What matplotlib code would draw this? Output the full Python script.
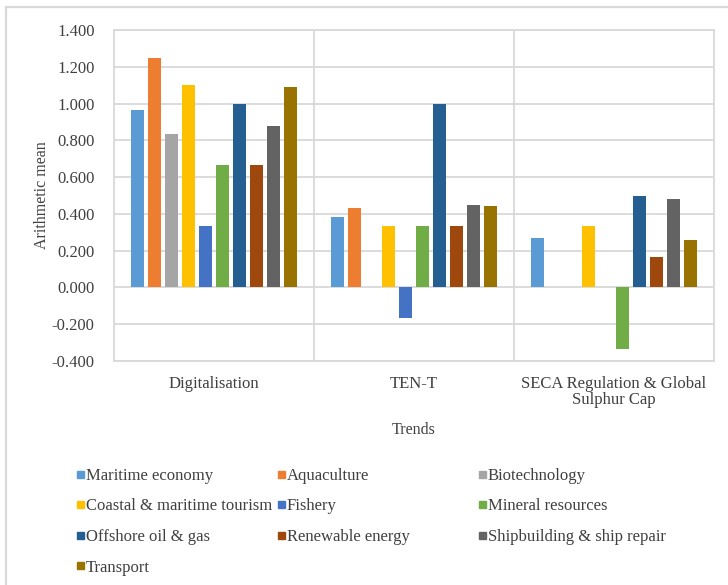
import numpy as np
from matplotlib import pyplot as plt
from matplotlib.patches import Rectangle

categories = ["Digitalisation", "TEN-T", "SECA Regulation & Global\nSulphur Cap"]
series_names = ["Maritime economy", "Aquaculture", "Biotechnology",
                "Coastal & maritime tourism", "Fishery", "Mineral resources",
                "Offshore oil & gas", "Renewable energy", "Shipbuilding & ship repair",
                "Transport"]
colors = ["#5B9BD5", "#ED7D31", "#A5A5A5", "#FFC000", "#4472C4",
          "#70AD47", "#255E91", "#9E480E", "#636363", "#997300"]

# one list per series: Digitalisation, TEN-T, SECA
maritime_economy = [0.967, 0.385, 0.267]
aquaculture = [1.250, 0.430, 0.0]
biotechnology = [0.833, 0.0, 0.0]
coastal_tourism = [1.100, 0.333, 0.333]
fishery = [0.333, -0.167, 0.0]
mineral_resources = [0.667, 0.333, -0.333]
offshore_oil_gas = [1.000, 1.000, 0.500]
renewable_energy = [0.667, 0.333, 0.167]
shipbuilding = [0.880, 0.450, 0.483]
transport = [1.090, 0.444, 0.256]

values = [maritime_economy, aquaculture, biotechnology, coastal_tourism, fishery,
          mineral_resources, offshore_oil_gas, renewable_energy, shipbuilding, transport]

plt.rcParams['font.family'] = ['Liberation Serif', 'DejaVu Serif']

W, H = 728, 585
fig = plt.figure(figsize=(W / 100, H / 100), dpi=100)

# outer chart border (left and top edges visible)
fig.add_artist(Rectangle((6 / W, -0.1), 1.2, 1 - 7 / H + 0.1, transform=fig.transFigure,
                         fill=False, edgecolor="#D9D9D9", linewidth=1.6))

ax = fig.add_axes([114 / W, 1 - 361 / H, 600 / W, 331 / H])

x = np.arange(len(categories))
slot = 0.085
width = 0.068
for i, (name, vals) in enumerate(zip(series_names, values)):
    offset = (i - (len(series_names) - 1) / 2) * slot
    ax.bar(x + offset, vals, width=width, color=colors[i], label=name, zorder=3)

ax.set_xlim(-0.5, len(categories) - 0.5)
ax.set_ylim(-0.4, 1.4)
ax.set_yticks(np.arange(-0.4, 1.41, 0.2))
ax.set_yticklabels(["{:.3f}".format(v) for v in np.arange(-0.4, 1.41, 0.2)], fontsize=12,
                   color="#404040")
ax.yaxis.grid(True, color="#D9D9D9", linewidth=1.3, zorder=0)
for b in np.arange(0.5, len(categories) - 0.5, 1):
    ax.axvline(b, color="#D9D9D9", linewidth=1.3, zorder=0)
for s in ax.spines.values():
    s.set_color("#D9D9D9")
    s.set_linewidth(1.3)
ax.tick_params(axis="y", length=0, pad=14)
ax.set_xticks(x)
ax.set_xticklabels(categories, fontsize=12, color="#404040", linespacing=1.0)
ax.tick_params(axis="x", length=0, pad=11)
ax.set_ylabel("Arithmetic mean", fontsize=11.5, color="#404040")
ax.yaxis.set_label_coords(-0.107, 0.5)
ax.set_xlabel("Trends", fontsize=11.5, color="#404040", labelpad=10)

# legend laid out like the Excel one: 3 equal-width columns
for i, name in enumerate(series_names):
    row, col = divmod(i, 3)
    lx = 77 + col * 201
    ly = 476 + row * 30.5
    fig.add_artist(Rectangle((lx / W, 1 - (ly + 1.5) / H), 7 / W, 7 / H,
                             transform=fig.transFigure, color=colors[i]))
    fig.text((lx + 9) / W, 1 - ly / H, name, fontsize=12, color="#404040",
             va="center", ha="left")

plt.savefig("out.png", dpi=100)
